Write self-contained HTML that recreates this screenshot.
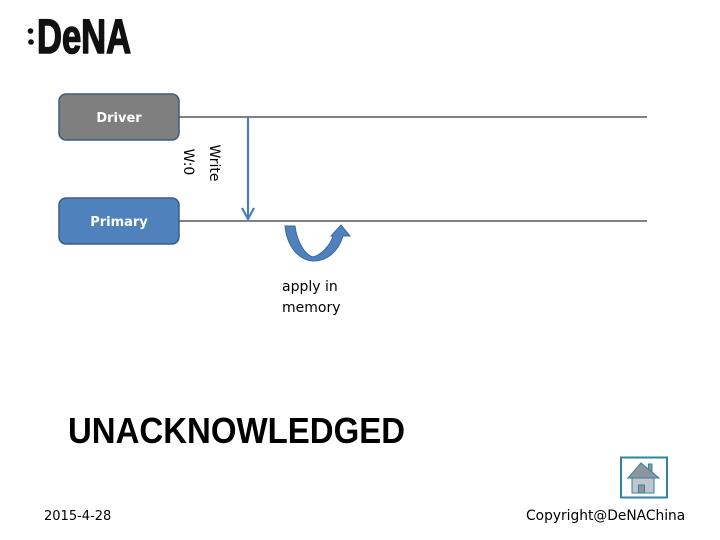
<!DOCTYPE html>
<html><head><meta charset="utf-8"><style>
html,body{margin:0;padding:0;background:#fff;}
body{width:720px;height:540px;overflow:hidden;position:relative;}
svg{position:absolute;left:0;top:0;}
</style></head><body>
<svg width="720" height="540" viewBox="0 0 720 540" xmlns="http://www.w3.org/2000/svg">
  <!-- logo -->
  <circle cx="30.5" cy="31" r="2.8" fill="#111"/>
  <circle cx="31" cy="42" r="2.8" fill="#111"/>
  <text x="37" y="53" font-family="Liberation Sans, sans-serif" font-weight="bold" font-size="48" fill="#111" stroke="#111" stroke-width="1.6" stroke-linejoin="round" transform="translate(37 0) scale(0.72 1) translate(-37 0)">DeNA</text>

  <!-- lifelines -->
  <line x1="179" y1="117" x2="647" y2="117" stroke="#808080" stroke-width="2"/>
  <line x1="179" y1="221" x2="647" y2="221" stroke="#808080" stroke-width="2"/>

  <!-- boxes -->
  <rect x="59" y="94" width="120" height="46" rx="7" fill="#7f7f7f" stroke="#3d5c80" stroke-width="1.5"/>
  <text x="119" y="122" text-anchor="middle" font-family="DejaVu Sans, sans-serif" font-weight="bold" font-size="13" fill="#fff">Driver</text>
  <rect x="59" y="198" width="120" height="46" rx="7" fill="#4f81bd" stroke="#385d8a" stroke-width="1.5"/>
  <text x="119" y="226" text-anchor="middle" font-family="DejaVu Sans, sans-serif" font-weight="bold" font-size="13" fill="#fff">Primary</text>

  <!-- write arrow -->
  <line x1="248" y1="117" x2="248" y2="219" stroke="#4a7ebb" stroke-width="2.2"/>
  <polyline points="242,208 248,219 254,208" fill="none" stroke="#4a7ebb" stroke-width="2.2"/>

  <!-- rotated labels -->
  <text x="0" y="0" text-anchor="middle" font-family="DejaVu Sans, sans-serif" font-size="14" fill="#000" transform="translate(210 163) rotate(90)">Write</text>
  <text x="0" y="0" text-anchor="middle" font-family="DejaVu Sans, sans-serif" font-size="14" fill="#000" transform="translate(184 162) rotate(90)">W:0</text>

  <!-- curved arrow -->
  <path d="M285,226 L295,226 C297,242 305,255 313,257 C321,255 330,246 333,236 L331,236 L341,225 L350,236 L343,236 C338,252 327,261 313,261 C298,260 287,246 285,226 Z" fill="#4f81bd" stroke="#3a67a0" stroke-width="1"/>

  <text x="282" y="291" font-family="DejaVu Sans, sans-serif" font-size="14" fill="#000">apply in</text>
  <text x="282" y="312" font-family="DejaVu Sans, sans-serif" font-size="14" fill="#000">memory</text>

  <!-- title -->
  <text x="68" y="443" font-family="Liberation Sans, sans-serif" font-weight="bold" font-size="36" fill="#000" transform="translate(68 0) scale(0.916 1) translate(-68 0)">UNACKNOWLEDGED</text>

  <!-- footer -->
  <text x="44" y="520" font-family="DejaVu Sans, sans-serif" font-size="13" fill="#000">2015-4-28</text>
  <text x="526" y="520" font-family="DejaVu Sans, sans-serif" font-size="13.8" fill="#000">Copyright@DeNAChina</text>

  <!-- home icon -->
  <rect x="621" y="457.5" width="46" height="40" fill="#fff" stroke="#31849b" stroke-width="2"/>
  <rect x="648.5" y="464" width="3.5" height="7" fill="#8e959e" stroke="#31849b" stroke-width="1"/>
  <rect x="632" y="477" width="22" height="16" fill="#c0c6cf" stroke="#31849b" stroke-width="1"/>
  <polygon points="641,463 628,478 659,478" fill="#8e959e" stroke="#31849b" stroke-width="1"/>
  <rect x="638.5" y="485" width="6" height="8" fill="#8e959e" stroke="#31849b" stroke-width="1"/>
</svg>
</body></html>
